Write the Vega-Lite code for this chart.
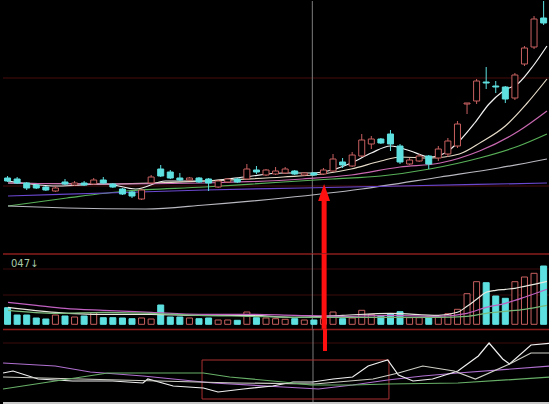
{
"$schema": "https://vega.github.io/schema/vega-lite/v6.json",
"background": "#000000",
"padding": 0,
"spacing": 0,
"bounds": "flush",
"autosize": {"type": "pad"},
"config": {"view": {"stroke": null}, "concat": {"spacing": 0}, "mark": {"clip": true}},
"resolve": {"scale": {"color": "independent"}},
"datasets": {
"candles": [
{"j":0,"o":76,"c":73,"h":78,"l":72,"d":"down","vol":16.6},
{"j":1,"o":75,"c":71,"h":77,"l":70,"d":"down","vol":9.3},
{"j":2,"o":71,"c":66,"h":72,"l":64,"d":"down","vol":9.3},
{"j":3,"o":69,"c":66,"h":70,"l":65,"d":"down","vol":6.3},
{"j":4,"o":67,"c":64,"h":68,"l":63,"d":"down","vol":5.3},
{"j":5,"o":63,"c":66,"h":68,"l":62,"d":"up","vol":9.3},
{"j":6,"o":72,"c":70,"h":75,"l":69,"d":"down","vol":8.3},
{"j":7,"o":69,"c":71,"h":73,"l":68,"d":"up","vol":7.3},
{"j":8,"o":71,"c":69,"h":73,"l":68,"d":"down","vol":8.3},
{"j":9,"o":70,"c":74,"h":76,"l":69,"d":"up","vol":11.6},
{"j":10,"o":74,"c":71,"h":77,"l":70,"d":"down","vol":6.6},
{"j":11,"o":70,"c":67,"h":71,"l":66,"d":"down","vol":6.6},
{"j":12,"o":65,"c":60,"h":66,"l":59,"d":"down","vol":6.3},
{"j":13,"o":62,"c":58,"h":63,"l":56,"d":"down","vol":5.6},
{"j":14,"o":55,"c":64,"h":65,"l":54,"d":"up","vol":6.3},
{"j":15,"o":71,"c":77,"h":79,"l":70,"d":"up","vol":5.3},
{"j":16,"o":85,"c":78,"h":89,"l":77,"d":"down","vol":19.3},
{"j":17,"o":82,"c":76,"h":84,"l":75,"d":"down","vol":7.3},
{"j":18,"o":76,"c":74,"h":81,"l":73,"d":"down","vol":7.3},
{"j":19,"o":74,"c":76,"h":77,"l":73,"d":"up","vol":6.3},
{"j":20,"o":76,"c":72,"h":77,"l":71,"d":"down","vol":5.6},
{"j":21,"o":75,"c":71,"h":76,"l":63,"d":"down","vol":6.3},
{"j":22,"o":67,"c":73,"h":74,"l":66,"d":"up","vol":4.3},
{"j":23,"o":72,"c":75,"h":76,"l":71,"d":"up","vol":4.3},
{"j":24,"o":75,"c":72,"h":76,"l":71,"d":"down","vol":4},
{"j":25,"o":75,"c":85,"h":90,"l":74,"d":"up","vol":12.3},
{"j":26,"o":84,"c":82,"h":88,"l":80,"d":"down","vol":6.6},
{"j":27,"o":79,"c":84,"h":85,"l":78,"d":"up","vol":6.3},
{"j":28,"o":80,"c":83,"h":87,"l":79,"d":"up","vol":5.6},
{"j":29,"o":81,"c":85,"h":87,"l":80,"d":"up","vol":5},
{"j":30,"o":83,"c":80,"h":84,"l":79,"d":"down","vol":5.6},
{"j":31,"o":79,"c":81,"h":82,"l":78,"d":"up","vol":4.3},
{"j":32,"o":81,"c":79,"h":82,"l":78,"d":"down","vol":4.3},
{"j":33,"o":80,"c":84,"h":86,"l":79,"d":"up","vol":5.6},
{"j":34,"o":83,"c":95,"h":100,"l":82,"d":"up","vol":12.3},
{"j":35,"o":92,"c":89,"h":96,"l":86,"d":"down","vol":5.6},
{"j":36,"o":88,"c":99,"h":102,"l":87,"d":"up","vol":6.3},
{"j":37,"o":98,"c":114,"h":120,"l":97,"d":"up","vol":14},
{"j":38,"o":110,"c":115,"h":118,"l":105,"d":"up","vol":10},
{"j":39,"o":115,"c":111,"h":116,"l":110,"d":"down","vol":8.3},
{"j":40,"o":120,"c":110,"h":124,"l":103,"d":"down","vol":10.6},
{"j":41,"o":108,"c":92,"h":110,"l":90,"d":"down","vol":12.6},
{"j":42,"o":90,"c":94,"h":96,"l":89,"d":"up","vol":6.6},
{"j":43,"o":93,"c":98,"h":100,"l":92,"d":"up","vol":6.6},
{"j":44,"o":98,"c":90,"h":99,"l":85,"d":"down","vol":7.3},
{"j":45,"o":96,"c":105,"h":108,"l":93,"d":"up","vol":7.3},
{"j":46,"o":100,"c":113,"h":116,"l":97,"d":"up","vol":10.6},
{"j":47,"o":108,"c":130,"h":133,"l":106,"d":"up","vol":15},
{"j":48,"o":150,"c":151,"h":151,"l":140,"d":"up","vol":30.6},
{"j":49,"o":153,"c":173,"h":175,"l":150,"d":"up","vol":42.6},
{"j":50,"o":172,"c":171,"h":187,"l":165,"d":"down","vol":41.6},
{"j":51,"o":168,"c":167,"h":173,"l":161,"d":"down","vol":28.3},
{"j":52,"o":167,"c":155,"h":168,"l":151,"d":"down","vol":26},
{"j":53,"o":156,"c":179,"h":181,"l":154,"d":"up","vol":42.6},
{"j":54,"o":190,"c":206,"h":208,"l":188,"d":"up","vol":47.3},
{"j":55,"o":207,"c":235,"h":238,"l":205,"d":"up","vol":51},
{"j":56,"o":236,"c":231,"h":253,"l":229,"d":"down","vol":58.3}
],
"ma": [
{"s":"ma5","j":0.05,"v":73},{"s":"ma5","j":5.2,"v":68},{"s":"ma5","j":10.3,"v":70},{"s":"ma5","j":13.4,"v":65},{"s":"ma5","j":16.5,"v":73},{"s":"ma5","j":20.6,"v":73},{"s":"ma5","j":24.7,"v":77},{"s":"ma5","j":28.8,"v":81},{"s":"ma5","j":31.8,"v":81},{"s":"ma5","j":33.9,"v":84},{"s":"ma5","j":35.9,"v":91},{"s":"ma5","j":38,"v":101},{"s":"ma5","j":40,"v":108},{"s":"ma5","j":42.1,"v":103},{"s":"ma5","j":44.1,"v":97},{"s":"ma5","j":45.7,"v":101},{"s":"ma5","j":47.2,"v":113},{"s":"ma5","j":48.8,"v":131},{"s":"ma5","j":50.3,"v":150},{"s":"ma5","j":51.8,"v":163},{"s":"ma5","j":53.4,"v":171},{"s":"ma5","j":54.9,"v":188},{"s":"ma5","j":56.35,"v":208},
{"s":"ma10","j":0.05,"v":71},{"s":"ma10","j":10.3,"v":70},{"s":"ma10","j":20.6,"v":73},{"s":"ma10","j":28.8,"v":77},{"s":"ma10","j":32.9,"v":80},{"s":"ma10","j":35.9,"v":85},{"s":"ma10","j":39,"v":93},{"s":"ma10","j":41,"v":97},{"s":"ma10","j":44.1,"v":96},{"s":"ma10","j":47.2,"v":100},{"s":"ma10","j":49.5,"v":112},{"s":"ma10","j":52,"v":128},{"s":"ma10","j":54.2,"v":150},{"s":"ma10","j":56.35,"v":175},
{"s":"ma20","j":0.05,"v":71},{"s":"ma20","j":10.3,"v":70},{"s":"ma20","j":20.6,"v":71},{"s":"ma20","j":30.8,"v":75},{"s":"ma20","j":35.9,"v":79},{"s":"ma20","j":41,"v":87},{"s":"ma20","j":45.2,"v":91},{"s":"ma20","j":49.3,"v":103},{"s":"ma20","j":53.4,"v":123},{"s":"ma20","j":56.35,"v":143},
{"s":"ma30","j":0.05,"v":48},{"s":"ma30","j":6.2,"v":56},{"s":"ma30","j":12.4,"v":63},{"s":"ma30","j":20.6,"v":67},{"s":"ma30","j":28.8,"v":72},{"s":"ma30","j":33.9,"v":75},{"s":"ma30","j":39,"v":78},{"s":"ma30","j":44.1,"v":85},{"s":"ma30","j":49.3,"v":96},{"s":"ma30","j":53.4,"v":108},{"s":"ma30","j":56.35,"v":120},
{"s":"ma60","j":0.05,"v":48},{"s":"ma60","j":6.2,"v":46},{"s":"ma60","j":14.4,"v":45},{"s":"ma60","j":20.6,"v":49},{"s":"ma60","j":28.8,"v":56},{"s":"ma60","j":37,"v":65},{"s":"ma60","j":45.2,"v":77},{"s":"ma60","j":51.3,"v":86},{"s":"ma60","j":56.35,"v":95},
{"s":"ma120","j":0.05,"v":58},{"s":"ma120","j":10.3,"v":61},{"s":"ma120","j":20.6,"v":64},{"s":"ma120","j":30.8,"v":66},{"s":"ma120","j":41,"v":68},{"s":"ma120","j":56.35,"v":71}
],
"vma": [
{"s":"v5","j":0.05,"v":17},{"s":"v5","j":5,"v":12},{"s":"v5","j":10,"v":10},{"s":"v5","j":15,"v":10},{"s":"v5","j":20,"v":9},{"s":"v5","j":25,"v":9},{"s":"v5","j":30,"v":7},{"s":"v5","j":35,"v":9},{"s":"v5","j":40,"v":11},{"s":"v5","j":45,"v":9},{"s":"v5","j":47,"v":12},{"s":"v5","j":48,"v":18},{"s":"v5","j":49,"v":25},{"s":"v5","j":50,"v":32},{"s":"v5","j":51,"v":34},{"s":"v5","j":52,"v":35},{"s":"v5","j":53,"v":36},{"s":"v5","j":54,"v":38},{"s":"v5","j":55,"v":40},{"s":"v5","j":56.35,"v":43},
{"s":"v10","j":0.05,"v":22},{"s":"v10","j":3,"v":19},{"s":"v10","j":6,"v":16},{"s":"v10","j":10,"v":14},{"s":"v10","j":15,"v":12},{"s":"v10","j":20,"v":10},{"s":"v10","j":25,"v":10},{"s":"v10","j":30,"v":9},{"s":"v10","j":35,"v":8},{"s":"v10","j":40,"v":9},{"s":"v10","j":45,"v":8},{"s":"v10","j":48,"v":11},{"s":"v10","j":50,"v":17},{"s":"v10","j":52,"v":21},{"s":"v10","j":54,"v":27},{"s":"v10","j":56.35,"v":35},
{"s":"v20","j":0.05,"v":14},{"s":"v20","j":5,"v":11},{"s":"v20","j":10,"v":12},{"s":"v20","j":15,"v":11},{"s":"v20","j":20,"v":9},{"s":"v20","j":25,"v":8},{"s":"v20","j":30,"v":7},{"s":"v20","j":35,"v":7},{"s":"v20","j":40,"v":7},{"s":"v20","j":45,"v":7},{"s":"v20","j":48,"v":8},{"s":"v20","j":50,"v":11},{"s":"v20","j":52,"v":13},{"s":"v20","j":54,"v":15},{"s":"v20","j":56.35,"v":19}
],
"ind": [
{"s":"p","j":0.05,"v":42},{"s":"p","j":5.4,"v":39},{"s":"p","j":9,"v":33},{"s":"p","j":14.4,"v":29},{"s":"p","j":21.6,"v":22},{"s":"p","j":28.8,"v":18},{"s":"p","j":32.4,"v":16},{"s":"p","j":35.9,"v":20},{"s":"p","j":39.5,"v":25},{"s":"p","j":43.1,"v":29},{"s":"p","j":46.7,"v":32},{"s":"p","j":56.35,"v":39},
{"s":"w1","j":0.05,"v":32},{"s":"w1","j":1.07,"v":34},{"s":"w1","j":3.64,"v":26},{"s":"w1","j":7.2,"v":24},{"s":"w1","j":11.3,"v":24},{"s":"w1","j":14.4,"v":22},{"s":"w1","j":14.9,"v":26},{"s":"w1","j":17.5,"v":19},{"s":"w1","j":20.6,"v":17},{"s":"w1","j":22.1,"v":13},{"s":"w1","j":24.7,"v":16},{"s":"w1","j":27.7,"v":19},{"s":"w1","j":29.8,"v":23},{"s":"w1","j":31.8,"v":23},{"s":"w1","j":33.9,"v":26},{"s":"w1","j":35.9,"v":28},{"s":"w1","j":37.5,"v":39},{"s":"w1","j":38.8,"v":43},{"s":"w1","j":39.5,"v":45},{"s":"w1","j":40.6,"v":30},{"s":"w1","j":42.1,"v":24},{"s":"w1","j":44.1,"v":26},{"s":"w1","j":46.7,"v":34},{"s":"w1","j":48.8,"v":49},{"s":"w1","j":49.9,"v":62},{"s":"w1","j":51.3,"v":46},{"s":"w1","j":52,"v":41},{"s":"w1","j":54.2,"v":60},{"s":"w1","j":56.35,"v":62},
{"s":"w2","j":0.05,"v":28},{"s":"w2","j":8,"v":26},{"s":"w2","j":16,"v":24},{"s":"w2","j":24,"v":22},{"s":"w2","j":32,"v":21},{"s":"w2","j":38,"v":26},{"s":"w2","j":40.6,"v":32},{"s":"w2","j":43.1,"v":39},{"s":"w2","j":46.3,"v":34},{"s":"w2","j":48.5,"v":26},{"s":"w2","j":52,"v":41},{"s":"w2","j":54.2,"v":52},{"s":"w2","j":56.35,"v":52},
{"s":"g","j":0.05,"v":16},{"s":"g","j":10.8,"v":32},{"s":"g","j":20.6,"v":32},{"s":"g","j":23.3,"v":28},{"s":"g","j":28.8,"v":23},{"s":"g","j":31.6,"v":20},{"s":"g","j":35.9,"v":20},{"s":"g","j":39.5,"v":21},{"s":"g","j":46.7,"v":22},{"s":"g","j":56.35,"v":28}
]
},
"vconcat": [
{
"width": 549, "height": 253,
"data": {"name": "candles"},
"layer": [
{"data": {"values": [{"v": 176}, {"v": 68}]}, "mark": {"type": "rule", "color": "#4a0c0c", "strokeWidth": 1}, "encoding": {"y": {"field": "v", "type": "quantitative", "scale": {"domain": [0, 253], "nice": false, "zero": false}, "axis": null}}},
{"data": {"values": [{"j": 31.84}]}, "mark": {"type": "rule", "color": "#7c7c7c", "strokeWidth": 1}, "encoding": {"x": {"field": "j", "type": "quantitative", "scale": {"domain": [0.046, 56.354], "nice": false, "zero": false}, "axis": null}}},
{"data": {"name": "ma"}, "mark": {"type": "line", "interpolate": "monotone", "strokeWidth": 1.2}, "encoding": {
  "x": {"field": "j", "type": "quantitative", "scale": {"domain": [0.046, 56.354], "nice": false, "zero": false}, "axis": null},
  "y": {"field": "v", "type": "quantitative", "scale": {"domain": [0, 253], "nice": false, "zero": false}, "axis": null},
  "color": {"field": "s", "type": "nominal", "scale": {"domain": ["ma5", "ma10", "ma20", "ma30", "ma60", "ma120"], "range": ["#f2f2f2", "#e6dcc8", "#c868b0", "#58b058", "#b8b8c0", "#6a48d0"]}, "legend": null}}},
{"transform": [{"filter": "datum.d == 'up'"}], "mark": {"type": "rule", "strokeWidth": 1, "color": "#c86060"}, "encoding": {
  "x": {"field": "j", "type": "quantitative", "scale": {"domain": [0.046, 56.354], "nice": false, "zero": false}, "axis": null},
  "y": {"field": "l", "type": "quantitative", "scale": {"domain": [0, 253], "nice": false, "zero": false}, "axis": null},
  "y2": {"field": "h"}}},
{"transform": [{"filter": "datum.d == 'down'"}], "mark": {"type": "rule", "strokeWidth": 1, "color": "#5ee0e0"}, "encoding": {
  "x": {"field": "j", "type": "quantitative", "scale": {"domain": [0.046, 56.354], "nice": false, "zero": false}, "axis": null},
  "y": {"field": "l", "type": "quantitative", "scale": {"domain": [0, 253], "nice": false, "zero": false}, "axis": null},
  "y2": {"field": "h"}}},
{"transform": [{"filter": "datum.d == 'up'"}], "mark": {"type": "bar", "size": 6, "fill": "#000000", "stroke": "#c86060", "strokeWidth": 1}, "encoding": {
  "x": {"field": "j", "type": "quantitative", "scale": {"domain": [0.046, 56.354], "nice": false, "zero": false}, "axis": null},
  "y": {"field": "o", "type": "quantitative", "scale": {"domain": [0, 253], "nice": false, "zero": false}, "axis": null},
  "y2": {"field": "c"}}},
{"transform": [{"filter": "datum.d == 'down'"}], "mark": {"type": "bar", "size": 6, "fill": "#5ee0e0", "stroke": "#5ee0e0", "strokeWidth": 1}, "encoding": {
  "x": {"field": "j", "type": "quantitative", "scale": {"domain": [0.046, 56.354], "nice": false, "zero": false}, "axis": null},
  "y": {"field": "o", "type": "quantitative", "scale": {"domain": [0, 253], "nice": false, "zero": false}, "axis": null},
  "y2": {"field": "c"}}},
{"data": {"values": [{"j": 33.07, "a": 0, "b": 58}]}, "mark": {"type": "rule", "color": "#ff1010", "strokeWidth": 5}, "encoding": {
  "x": {"field": "j", "type": "quantitative", "scale": {"domain": [0.046, 56.354], "nice": false, "zero": false}, "axis": null},
  "y": {"field": "a", "type": "quantitative", "scale": {"domain": [0, 253], "nice": false, "zero": false}, "axis": null},
  "y2": {"field": "b"}}},
{"data": {"values": [{"j": 33.07, "v": 61.5}]}, "mark": {"type": "point", "shape": "M-0.7,1L0,-1L0.7,1Z", "size": 289, "filled": true, "color": "#ff1010", "opacity": 1}, "encoding": {
  "x": {"field": "j", "type": "quantitative", "scale": {"domain": [0.046, 56.354], "nice": false, "zero": false}, "axis": null},
  "y": {"field": "v", "type": "quantitative", "scale": {"domain": [0, 253], "nice": false, "zero": false}, "axis": null}}}
]
},
{
"width": 549, "height": 75,
"data": {"name": "candles"},
"layer": [
{"data": {"values": [{"v": 70.3}]}, "mark": {"type": "rule", "color": "#8a1c1c", "strokeWidth": 1.5}, "encoding": {
  "y": {"field": "v", "type": "quantitative", "scale": {"domain": [-4.7, 70.3], "nice": false, "zero": false}, "axis": null}}},
{"data": {"values": [{"v": 55.3}, {"v": 29.3}]}, "mark": {"type": "rule", "color": "#3e0c0c", "strokeWidth": 1}, "encoding": {
  "y": {"field": "v", "type": "quantitative", "scale": {"domain": [-4.7, 70.3], "nice": false, "zero": false}, "axis": null}}},
{"data": {"values": [{"j": 31.84}]}, "mark": {"type": "rule", "color": "#7c7c7c", "strokeWidth": 1}, "encoding": {"x": {"field": "j", "type": "quantitative", "scale": {"domain": [0.046, 56.354], "nice": false, "zero": false}, "axis": null}}},
{"transform": [{"filter": "datum.d == 'up'"}], "mark": {"type": "bar", "size": 6, "fill": "#000000", "stroke": "#c86060", "strokeWidth": 1}, "encoding": {
  "x": {"field": "j", "type": "quantitative", "scale": {"domain": [0.046, 56.354], "nice": false, "zero": false}, "axis": null},
  "y": {"field": "vol", "type": "quantitative", "scale": {"domain": [-4.7, 70.3], "nice": false, "zero": false}, "axis": null},
  "y2": {"datum": 0}}},
{"transform": [{"filter": "datum.d == 'down'"}], "mark": {"type": "bar", "size": 6, "fill": "#5ee0e0", "stroke": "#5ee0e0", "strokeWidth": 1}, "encoding": {
  "x": {"field": "j", "type": "quantitative", "scale": {"domain": [0.046, 56.354], "nice": false, "zero": false}, "axis": null},
  "y": {"field": "vol", "type": "quantitative", "scale": {"domain": [-4.7, 70.3], "nice": false, "zero": false}, "axis": null},
  "y2": {"datum": 0}}},
{"data": {"name": "vma"}, "mark": {"type": "line", "interpolate": "monotone", "strokeWidth": 1.2}, "encoding": {
  "x": {"field": "j", "type": "quantitative", "scale": {"domain": [0.046, 56.354], "nice": false, "zero": false}, "axis": null},
  "y": {"field": "v", "type": "quantitative", "scale": {"domain": [-4.7, 70.3], "nice": false, "zero": false}, "axis": null},
  "color": {"field": "s", "type": "nominal", "scale": {"domain": ["v5", "v10", "v20"], "range": ["#e8e8e0", "#c060c0", "#78b878"]}, "legend": null}}},
{"data": {"values": [{"j": 33.07, "a": -4.7, "b": 70.3}]}, "mark": {"type": "rule", "color": "#ff1010", "strokeWidth": 5}, "encoding": {
  "x": {"field": "j", "type": "quantitative", "scale": {"domain": [0.046, 56.354], "nice": false, "zero": false}, "axis": null},
  "y": {"field": "a", "type": "quantitative", "scale": {"domain": [-4.7, 70.3], "nice": false, "zero": false}, "axis": null},
  "y2": {"field": "b"}}},
{"data": {"values": [{"j": 0.35, "v": 60, "t": "047↓"}]}, "mark": {"type": "text", "align": "left", "baseline": "middle", "fontSize": 10, "font": "DejaVu Sans", "color": "#a8c8a8"}, "encoding": {
  "x": {"field": "j", "type": "quantitative", "scale": {"domain": [0.046, 56.354], "nice": false, "zero": false}, "axis": null},
  "y": {"field": "v", "type": "quantitative", "scale": {"domain": [-4.7, 70.3], "nice": false, "zero": false}, "axis": null},
  "text": {"field": "t"}}}
]
},
{
"width": 549, "height": 76,
"layer": [
{"data": {"values": [{"v": 75.5}]}, "mark": {"type": "rule", "color": "#8a1c1c", "strokeWidth": 1.5}, "encoding": {
  "y": {"field": "v", "type": "quantitative", "scale": {"domain": [0, 76], "nice": false, "zero": false}, "axis": null}}},
{"data": {"values": [{"v": 62}]}, "mark": {"type": "rule", "color": "#3e0c0c", "strokeWidth": 1}, "encoding": {
  "y": {"field": "v", "type": "quantitative", "scale": {"domain": [0, 76], "nice": false, "zero": false}, "axis": null}}},
{"data": {"values": [{"j": 31.84}]}, "mark": {"type": "rule", "color": "#7c7c7c", "strokeWidth": 1}, "encoding": {"x": {"field": "j", "type": "quantitative", "scale": {"domain": [0.046, 56.354], "nice": false, "zero": false}, "axis": null}}},
{"data": {"values": [{"a": 20.46, "b": 39.63, "c": 6, "d": 45}]}, "mark": {"type": "rect", "fill": null, "fillOpacity": 0, "stroke": "#a83030", "strokeWidth": 1}, "encoding": {
  "x": {"field": "a", "type": "quantitative", "scale": {"domain": [0.046, 56.354], "nice": false, "zero": false}, "axis": null},
  "x2": {"field": "b"},
  "y": {"field": "c", "type": "quantitative", "scale": {"domain": [0, 76], "nice": false, "zero": false}, "axis": null},
  "y2": {"field": "d"}}},
{"data": {"name": "ind"}, "mark": {"type": "line", "strokeWidth": 1.2}, "encoding": {
  "x": {"field": "j", "type": "quantitative", "scale": {"domain": [0.046, 56.354], "nice": false, "zero": false}, "axis": null},
  "y": {"field": "v", "type": "quantitative", "scale": {"domain": [0, 76], "nice": false, "zero": false}, "axis": null},
  "color": {"field": "s", "type": "nominal", "scale": {"domain": ["p", "w1", "w2", "g"], "range": ["#b070d0", "#f0f0f0", "#d0d0c8", "#68b068"]}, "legend": null}}},
{"data": {"values": [{"j": 33.07, "a": 54, "b": 76}]}, "mark": {"type": "rule", "color": "#ff1010", "strokeWidth": 4}, "encoding": {
  "x": {"field": "j", "type": "quantitative", "scale": {"domain": [0.046, 56.354], "nice": false, "zero": false}, "axis": null},
  "y": {"field": "a", "type": "quantitative", "scale": {"domain": [0, 76], "nice": false, "zero": false}, "axis": null},
  "y2": {"field": "b"}}},
{"data": {"values": [{"a": 0, "b": 3}]}, "mark": {"type": "rect", "color": "#c8c8c8"}, "encoding": {
  "y": {"field": "a", "type": "quantitative", "scale": {"domain": [0, 76], "nice": false, "zero": false}, "axis": null},
  "y2": {"field": "b"}}}
]
}
]
}
